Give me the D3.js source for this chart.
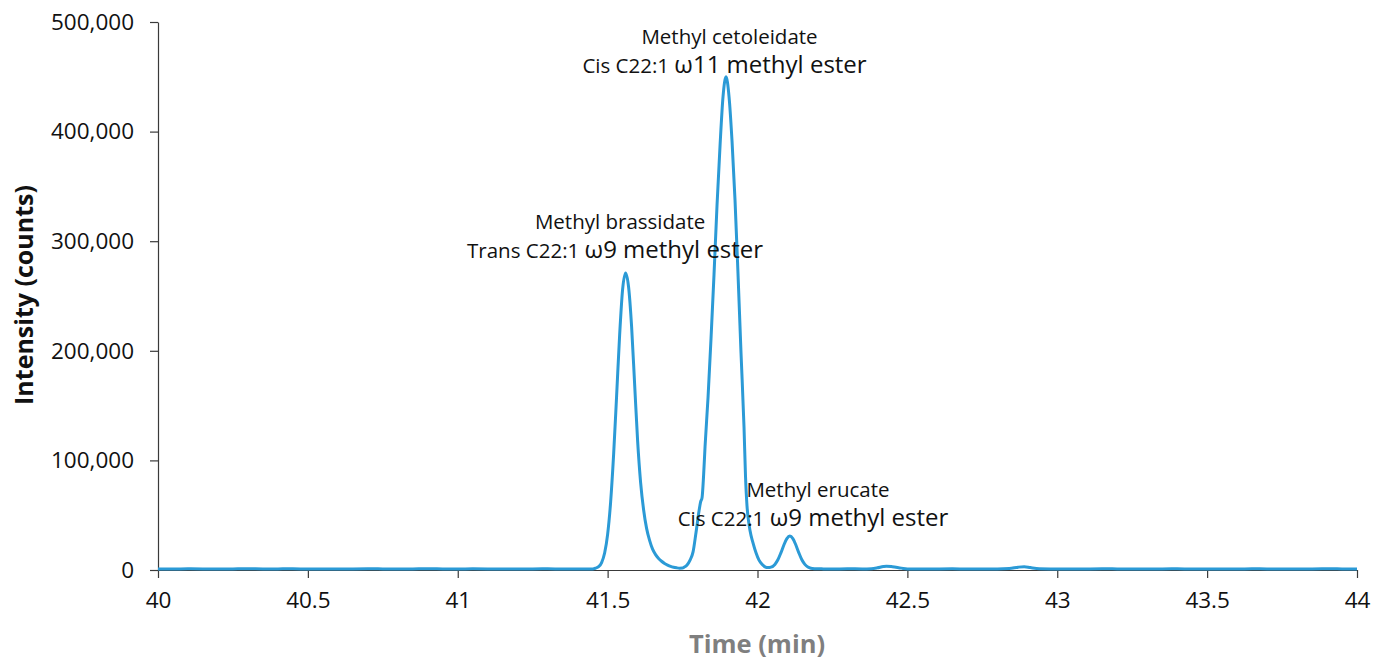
<!DOCTYPE html>
<html><head><meta charset="utf-8">
<script src="https://cdn.jsdelivr.net/npm/d3@7"></script>
<style>
html,body{margin:0;padding:0;background:#fff;}
text{font-family:"Open Sans","Noto Sans",sans-serif;}
</style></head>
<body><svg id="chart" width="1386" height="659"></svg>
<script>
// Time (min)
const times = [
 40.00,40.05,40.10,40.15,40.20,40.25,40.30,40.35,40.40,40.45,40.50,40.55,40.60,40.65,40.70,40.75,40.80,40.85,40.90,40.95,
 41.00,41.05,41.10,41.15,41.20,41.25,41.30,41.35,41.40,41.45,
 41.46,41.47,41.48,41.49,41.50,41.51,41.52,41.53,41.54,41.55,41.56,41.57,41.58,41.59,41.60,41.61,41.62,41.63,41.64,41.65,
 41.66,41.67,41.68,41.69,41.70,41.71,41.72,41.73,41.74,41.75,
 41.755,41.765,41.775,41.785,41.795,41.805,41.81,41.815,41.82,41.825,41.835,41.845,41.855,41.865,41.875,41.885,41.895,
 41.905,41.915,41.925,41.935,41.945,41.955,41.96,41.965,41.97,41.975,41.985,41.995,42.005,42.015,42.025,42.035,
 42.045,42.058,42.068,42.078,42.088,42.098,42.108,42.118,42.128,42.138,42.148,42.158,42.168,42.178,42.19,42.22,42.25,
 42.30,42.35,42.38,42.40,42.42,42.43,42.45,42.48,42.50,42.55,42.60,42.65,42.70,42.75,42.80,42.84,42.87,42.89,42.91,42.94,
 42.98,43.05,43.10,43.15,43.20,43.25,43.30,43.35,43.40,43.45,43.50,43.55,43.60,43.65,43.70,43.75,43.80,43.85,43.90,43.95,44.00
];
// Intensity (counts)
const intensity = [
 1000,900,1100,1000,800,1000,1200,900,1000,1100,900,1000,800,1000,1100,1000,900,1000,1200,1000,
 900,1100,1000,800,1000,1000,1100,900,1000,1000,
 1700,3000,6800,15500,32500,62000,105500,159000,214000,256000,271000,258000,222000,170000,118000,80000,55000,38000,27000,19000,
 14000,10500,8000,6000,4500,3300,2500,2000,1700,1800,
 2500,4600,9000,16500,34500,54000,62000,66000,85500,112500,157500,211500,270000,333000,387000,432000,450000,
 432000,391500,337500,270000,198000,130500,85500,58500,45000,36000,24700,15700,9000,5200,2900,2200,
 2600,5100,9300,15600,22800,28700,31000,28700,22800,15600,9300,5100,2700,1600,1200,1000,900,
 1100,1000,1200,2000,3200,3500,3000,1700,1000,900,1000,1100,900,1000,1000,1300,2600,3000,2200,1200,
 1000,900,1000,1100,1000,900,1000,1000,1100,900,1000,1000,900,1100,1000,1000,900,1000,1100,1000,900
];
const xTicks = [40,40.5,41,41.5,42,42.5,43,43.5,44];
const yTicks = [0,100000,200000,300000,400000,500000];
const annotations = [
 {l1:"Methyl cetoleidate", a:"Cis C22:1 ", b:"\u03c911 methyl ester", t:41.89, v:453500},
 {l1:"Methyl brassidate", a:"Trans C22:1 ", b:"\u03c99 methyl ester", t:41.525, v:285000},
 {l1:"Methyl erucate", a:"Cis C22:1 ", b:"\u03c99 methyl ester", t:42.185, v:40000}
];

const svg = d3.select("#chart");
const L=158, R=1357, T=22, B=570;
const x = d3.scaleLinear().domain([40,44]).range([L,R]);
const y = d3.scaleLinear().domain([0,500000]).range([B,T]);

const axisColor="#3a3a3a";
const gx = svg.append("g").attr("transform",`translate(0,${B})`)
  .call(d3.axisBottom(x).tickValues(xTicks).tickSize(8).tickSizeOuter(0).tickFormat(d3.format("")).tickPadding(14));
const gy = svg.append("g").attr("transform",`translate(${L},0)`)
  .call(d3.axisLeft(y).tickValues(yTicks).tickSize(8).tickSizeOuter(0).tickFormat(d3.format(",")).tickPadding(16));
[gx,gy].forEach(g=>{
  g.select(".domain").attr("stroke",axisColor).attr("stroke-width",1.2);
  g.selectAll(".tick line").attr("stroke",axisColor).attr("stroke-width",1.2);
  g.selectAll(".tick text").attr("fill","#111").style("font-size","22.5px").style("font-family","'Open Sans',sans-serif");
});

const data = times.map((t,i)=>({t, v:intensity[i]}));
svg.append("path").datum(data)
  .attr("fill","none").attr("stroke","#2B9AD6").attr("stroke-width",3).attr("stroke-linejoin","round")
  .attr("d", d3.line().x(d=>x(d.t)).y(d=>y(d.v)).curve(d3.curveMonotoneX));

annotations.forEach(a=>{
  const cx=x(a.t), cy=y(a.v);
  svg.append("text").attr("x",cx+5).attr("y",cy-29).attr("text-anchor","middle")
    .attr("fill","#111").style("font-size","20.5px").text(a.l1);
  const t2 = svg.append("text").attr("x",cx).attr("y",cy).attr("text-anchor","middle").attr("fill","#111");
  t2.append("tspan").style("font-size","20.5px").text(a.a);
  t2.append("tspan").style("font-size","24px").text(a.b);
});

svg.append("text").attr("x",757).attr("y",653).attr("text-anchor","middle")
  .attr("fill","#7f7f7f").style("font-size","25.5px").style("font-weight","bold").text("Time (min)");
svg.append("text").attr("transform",`translate(33,295) rotate(-90)`).attr("text-anchor","middle")
  .attr("fill","#111").style("font-size","25px").style("font-weight","bold").text("Intensity (counts)");
</script>
</body></html>
